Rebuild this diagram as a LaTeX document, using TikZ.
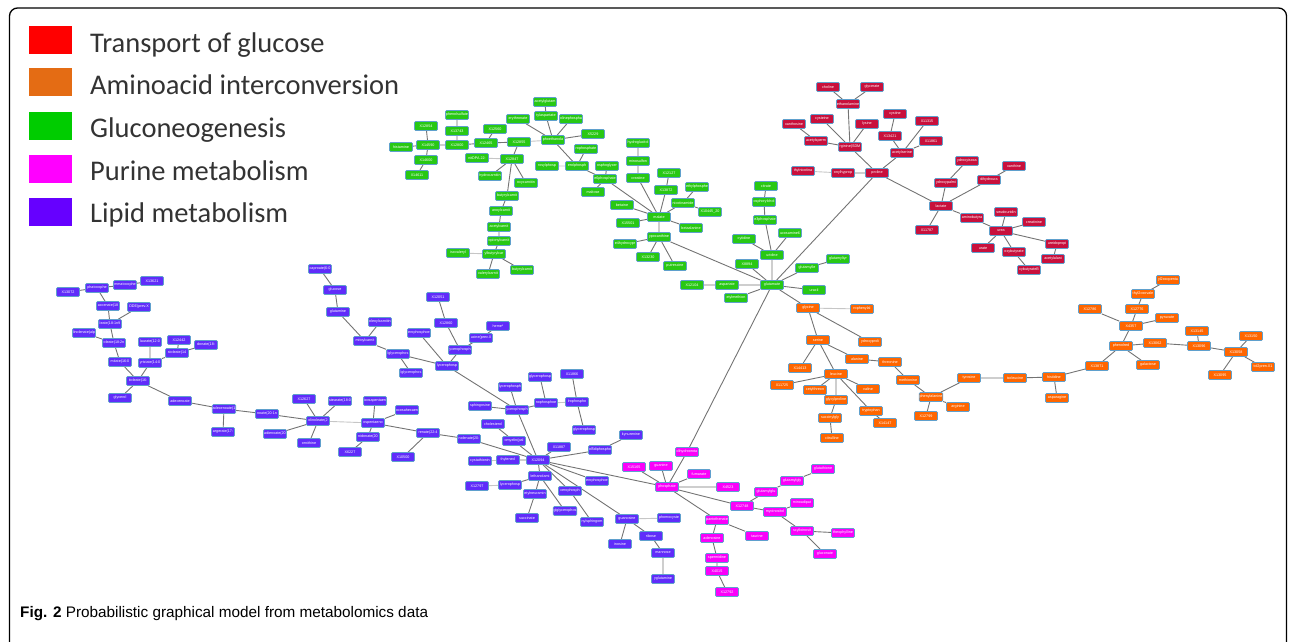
\documentclass[tikz,border=0pt]{standalone}
\usepackage{fontspec}
\setsansfont{Liberation Sans}
\newfontfamily\legendfont{Carlito}
\usetikzlibrary{backgrounds}

\definecolor{grFill}{RGB}{40,200,20}
\definecolor{rdFill}{RGB}{200,16,60}
\definecolor{orFill}{RGB}{255,102,0}
\definecolor{mgFill}{RGB}{250,0,250}
\definecolor{puFill}{RGB}{96,44,250}
\definecolor{nodeRim}{RGB}{95,160,205}
\definecolor{edgeGray}{RGB}{115,115,115}
\definecolor{legRed}{RGB}{255,0,0}
\definecolor{legOrange}{RGB}{228,108,20}
\definecolor{legGreen}{RGB}{0,204,0}
\definecolor{legPink}{RGB}{255,0,255}
\definecolor{legPurple}{RGB}{102,0,255}

\begin{document}
\begin{tikzpicture}[x=1pt,y=-1pt,
    met/.style={rectangle,draw=nodeRim,line width=0.7pt,rounded corners=1.2pt,
      minimum width=23pt,minimum height=9pt,inner sep=0.4pt,text=white,
      font=\sffamily\fontsize{3.7}{4}\selectfont},
    gnode/.style={met,fill=grFill},
    rnode/.style={met,fill=rdFill},
    onode/.style={met,fill=orFill},
    mnode/.style={met,fill=mgFill},
    pnode/.style={met,fill=puFill},
    edge/.style={draw=edgeGray,line width=0.9pt},
    weak/.style={draw=gray!45,line width=0.9pt},
    legsq/.style={rectangle,minimum width=43pt,minimum height=28pt,inner sep=0pt},
    legtext/.style={anchor=base west,inner sep=0pt,text=black!80,
      font=\legendfont\fontsize{28.5}{30}\selectfont}]
    \useasboundingbox (0,0) rectangle (1295,641);
    \clip (0,0) rectangle (1295,641);
    % frame
    \draw[line width=1.3pt,rounded corners=8pt] (9.5,8) rectangle (1286.5,680);
    % legend
    \node (sqRed) at (50.5,40) [legsq,fill=legRed] {};
    \node (sqOrange) at (50.5,82) [legsq,fill=legOrange] {};
    \node (sqGreen) at (50.5,126) [legsq,fill=legGreen] {};
    \node (sqPink) at (50.5,169) [legsq,fill=legPink] {};
    \node (sqPurple) at (50.5,212) [legsq,fill=legPurple] {};
    \node (txRed) at (90,52) [legtext] {Transport of glucose};
    \node (txOrange) at (90,94) [legtext] {Aminoacid interconversion};
    \node (txGreen) at (90,137) [legtext] {Gluconeogenesis};
    \node (txPink) at (90,180) [legtext] {Purine metabolism};
    \node (txPurple) at (90,222) [legtext] {Lipid metabolism};
    % caption
    \node (caption) at (20,617) [anchor=base west,inner sep=0pt,
      font=\sffamily\fontsize{15.3}{17}\selectfont] {\textbf{Fig. 2} Probabilistic graphical model from metabolomics data};

    % nodes: gluconeogenesis
    \node (histam) at (401,147) [gnode] {histamine};
    \node (x12854) at (426,126) [gnode] {X12854};
    \node (x14590) at (428,145) [gnode] {X14590};
    \node (x14600) at (426,160) [gnode] {X14600};
    \node (x14611) at (417,175) [gnode] {X14611};
    \node (phsulf) at (457,115) [gnode] {phenolsulfate};
    \node (x13743) at (457,131) [gnode] {X13743};
    \node (x12800) at (457,145) [gnode] {X12800};
    \node (x12465) at (486,143) [gnode] {X12465};
    \node (x12560) at (495,129) [gnode] {X12560};
    \node (x12855) at (519,142) [gnode] {X12855};
    \node (erythr) at (518,119) [gnode] {erythronate};
    \node (acglut) at (545,102) [gnode] {acetylglutam};
    \node (acasp) at (546,116) [gnode] {tylaspartate};
    \node (chphos) at (571,119) [gnode] {olinephospha};
    \node (phetha) at (553,140) [gnode] {phoethanola};
    \node (x5229) at (593,134) [gnode] {X5229};
    \node (rophos) at (586,149) [gnode] {rophosphate};
    \node (gphosp) at (577,166) [gnode] {erolphosph};
    \node (mosph) at (547,166) [gnode] {rosylphosp};
    \node (nitdpa) at (477,158) [gnode] {nitDPA 22:};
    \node (x12847) at (512,159) [gnode] {X12847};
    \node (dihcar) at (490,176) [gnode] {hydrocarnitin};
    \node (oxycar) at (526,183) [gnode] {oxycarnitin};
    \node (butcar) at (507,196) [gnode] {butyrylcarnit};
    \node (anocar) at (501,211) [gnode] {anoylcarnit};
    \node (acecar) at (499,227) [gnode] {acetylcarnit};
    \node (procar) at (499,241) [gnode] {opionylcarnit};
    \node (ylbut) at (494,254) [gnode] {ylbutyrylcar};
    \node (isoval) at (458,253) [gnode] {isovaleryl};
    \node (valcar) at (488,274) [gnode] {valerylcarnit};
    \node (butcr) at (522,270) [gnode] {butyrylcarnit};
    \node (hydgluc) at (638,143) [gnode] {hydroglucitol};
    \node (minsulf) at (638,161) [gnode] {minosulfon};
    \node (creat) at (638,178) [gnode] {creatine};
    \node (x12127) at (669,173) [gnode] {X12127};
    \node (x13872) at (666,190) [gnode] {X13872};
    \node (ethph) at (697,187) [gnode] {ethylphosphe};
    \node (nicot) at (683,203) [gnode] {nicotinamide};
    \node (x10445) at (710,212) [gnode] {X10445\_20};
    \node (balan) at (691,228) [gnode] {betaalanine};
    \node (malate) at (659,217) [gnode] {malate};
    \node (betaine) at (622,205) [gnode] {betaine};
    \node (x15501) at (628,223) [gnode] {X15501};
    \node (hypox) at (659,237) [gnode] {ypoxanthine};
    \node (hydpro) at (625,244) [gnode] {e4hydroxypr};
    \node (x13230) at (648,257) [gnode] {X13230};
    \node (putr) at (675,266) [gnode] {putrescine};
    \node (phgly) at (607,166) [gnode] {osphoglycer};
    \node (e6ph) at (605,179) [gnode] {e6phosphate};
    \node (maltose) at (593,192) [gnode] {maltose};
    \node (glut) at (772,285) [gnode] {glutamate};
    \node (citrate) at (766,186) [gnode] {citrate};
    \node (phchol) at (764,202) [gnode] {osphorylchol};
    \node (e3ph) at (765,220) [gnode] {e3phosphate};
    \node (glcam) at (790,233) [gnode] {ucosamine6};
    \node (cytid) at (744,239) [gnode] {cytidine};
    \node (urid) at (772,255) [gnode] {uridine};
    \node (x8894) at (747,264) [gnode] {X8894};
    \node (x12104) at (692,285) [gnode] {X12104};
    \node (aspart) at (727,285) [gnode] {aspartate};
    \node (acmet) at (736,298) [gnode] {etylmethion};
    \node (glule) at (807,268) [gnode] {glutamylle};
    \node (glutyr) at (838,259) [gnode] {glutamyltyr};
    \node (uracil) at (814,290) [gnode] {uracil};

    % nodes: transport of glucose
    \node (choline) at (828,87) [rnode] {choline};
    \node (glycer) at (872,87) [rnode] {glycerate};
    \node (ethan) at (848,104) [rnode] {ethanolamine};
    \node (xantho) at (794,124) [rnode] {xanthosine};
    \node (cyste) at (822,119) [rnode] {cysteine};
    \node (lysine) at (867,124) [rnode] {lysine};
    \node (acsperm) at (816,141) [rnode] {acetylsperm};
    \node (argsdm) at (850,147) [rnode] {rginine(SDM};
    \node (cystine) at (895,114) [rnode] {cystine};
    \node (x13421) at (890,136) [rnode] {X13421};
    \node (x11315) at (927,121) [rnode] {X11315};
    \node (x11861) at (931,141) [rnode] {X11861};
    \node (acser) at (902,153) [rnode] {acetylserine};
    \node (proline) at (877,173) [rnode] {proline};
    \node (onylhp) at (843,173) [rnode] {onylhyprop};
    \node (nicotr) at (803,171) [rnode] {thylnicotina};
    \node (lactate) at (941,206) [rnode] {lactate};
    \node (hpalm) at (946,183) [rnode] {ydroxypalmi};
    \node (hisoca) at (967,161) [rnode] {ydroxyisoca};
    \node (dhura) at (989,180) [rnode] {dihydroura};
    \node (xanth) at (1014,166) [rnode] {xanthine};
    \node (x11787) at (927,230) [rnode] {X11787};
    \node (aminob) at (972,218) [rnode] {aminobutyra};
    \node (urea) at (1001,231) [rnode] {urea};
    \node (pseud) at (1006,212) [rnode] {seudouridin};
    \node (creatn) at (1034,222) [rnode] {creatinine};
    \node (urate) at (983,248) [rnode] {urate};
    \node (oxbut) at (1014,252) [rnode] {oxybutyrate};
    \node (oxbutb) at (1029,270) [rnode] {xybutyrateB};
    \node (ureid) at (1057,244) [rnode] {ureidopropi};
    \node (acala) at (1053,259) [rnode] {acetylalani};

    % nodes: aminoacid interconversion
    \node (glycine) at (808,308) [onode] {glycine};
    \node (rophen) at (862,309) [onode] {rophenylal};
    \node (hydrox) at (870,342) [onode] {ydroxyproli};
    \node (serine) at (818,340) [onode] {serine};
    \node (x14413) at (800,368) [onode] {X14413};
    \node (alanine) at (857,359) [onode] {alanine};
    \node (threon) at (890,362) [onode] {threonine};
    \node (leucine) at (836,374) [onode] {leucine};
    \node (x11725) at (782,385) [onode] {X11725};
    \node (acthr) at (815,390) [onode] {cetylthreon};
    \node (valine) at (868,389) [onode] {valine};
    \node (glypro) at (836,400) [onode] {glycylproline};
    \node (trypt) at (871,411) [onode] {tryptophan};
    \node (x14147) at (885,423) [onode] {X14147};
    \node (sucgly) at (830,418) [onode] {succinylgly};
    \node (citrul) at (832,438) [onode] {citrulline};
    \node (methio) at (908,380) [onode] {methionine};
    \node (phenal) at (931,397) [onode] {phenylalanine};
    \node (x12799) at (926,416) [onode] {X12799};
    \node (arginine) at (958,407) [onode] {arginine};
    \node (tyros) at (969,378) [onode] {tyrosine};
    \node (isoleu) at (1015,378) [onode] {isoleucine};
    \node (histid) at (1054,377) [onode] {histidine};
    \node (aspara) at (1057,398) [onode] {asparagine};
    \node (x13871) at (1097,366) [onode] {X13871};
    \node (phenred) at (1121,346) [onode] {phenolred};
    \node (x4357) at (1131,326) [onode] {X4357};
    \node (x12786) at (1090,309) [onode] {X12786};
    \node (x12776) at (1137,309) [onode] {X12776};
    \node (oxoval) at (1143,294) [onode] {thyl2oxovale};
    \node (oxopent) at (1168,280) [onode] {yl2oxopenta};
    \node (pyruv) at (1167,318) [onode] {pyruvate};
    \node (x13062) at (1155,343) [onode] {X13062};
    \node (galact) at (1148,365) [onode] {galactose};
    \node (x13145) at (1197,331) [onode] {X13145};
    \node (x13096) at (1199,346) [onode] {X13096};
    \node (x13058) at (1236,352) [onode] {X13058};
    \node (x13150) at (1251,336) [onode] {X13150};
    \node (x13095) at (1220,375) [onode] {X13095};
    \node (tolpren) at (1263,367) [onode] {tol2pren.X1};

    % nodes: lipid metabolism
    \node (x13072) at (68,292) [pnode] {X13072};
    \node (phatoc) at (97,288) [pnode] {phatocophe};
    \node (mmatoc) at (125,285) [pnode] {mmatocophe};
    \node (x13621) at (152,281) [pnode] {X13621};
    \node (vaccen) at (108,306) [pnode] {accenate(18};
    \node (ddeprev) at (139,307) [pnode] {DDE(prev.X};
    \node (oleate) at (110,324) [pnode] {leate(18:1n9};
    \node (linolen) at (84,333) [pnode] {linolenate(alp};
    \node (linole) at (114,343) [pnode] {oleate(18:2n};
    \node (laurate) at (150,342) [pnode] {laurate(12:0};
    \node (x12442) at (179,340) [pnode] {X12442};
    \node (myrtol) at (177,353) [pnode] {stoleate(14};
    \node (donate) at (206,345) [pnode] {donate(18:};
    \node (palmit) at (120,362) [pnode] {mitate(16:0};
    \node (myrate) at (150,363) [pnode] {yristate(14:0};
    \node (palmol) at (138,381) [pnode] {itoleate(16:};
    \node (glycerol) at (120,398) [pnode] {glycerol};
    \node (adecen) at (180,401) [pnode] {adecenoate};
    \node (adecenb) at (224,409) [pnode] {adecenoate(1};
    \node (marg) at (223,432) [pnode] {argerate(17:};
    \node (eicos) at (267,414) [pnode] {noate(20:1n};
    \node (x12627) at (304,399) [pnode] {X12627};
    \node (stear) at (340,401) [pnode] {stearate(18:0};
    \node (dihomo) at (318,421) [pnode] {olinoleate(2};
    \node (adien) at (275,434) [pnode] {adienoate(20};
    \node (ornith) at (309,443) [pnode] {ornithine};
    \node (epa) at (375,401) [pnode] {icosapentaen};
    \node (dha) at (407,410) [pnode] {ocosahexaen};
    \node (dpa) at (373,423) [pnode] {ospentaeno};
    \node (arach) at (368,437) [pnode] {nidonate(20};
    \node (x6227) at (350,452) [pnode] {X6227};
    \node (adren) at (428,433) [pnode] {renate(22:4};
    \node (x10500) at (403,457) [pnode] {X10500};
    \node (dhlin) at (469,439) [pnode] {nolenate(20:};
    \node (cysta) at (480,461) [pnode] {cystathionin};
    \node (caproate) at (320,269) [pnode] {caproate(6:0};
    \node (glucose) at (335,290) [pnode] {glucose};
    \node (glutam) at (338,312) [pnode] {glutamine};
    \node (palcar) at (365,341) [pnode] {mitoylcarnit};
    \node (olecar) at (380,322) [pnode] {oleoylcarnitin};
    \node (lglyca) at (398,354) [pnode] {lglycerophos};
    \node (lglycb) at (411,373) [pnode] {lglycerophos};
    \node (gpca) at (447,366) [pnode] {lycerophosp};
    \node (ephoe) at (419,333) [pnode] {erophosphoe};
    \node (x12051) at (438,297) [pnode] {X12051};
    \node (x12860) at (446,323) [pnode] {X12860};
    \node (ycph) at (460,350) [pnode] {ycerophosph};
    \node (leuprev) at (481,338) [pnode] {ucine(prev.X};
    \node (heme) at (498,326) [pnode] {heme*};
    \node (glycc) at (540,377) [pnode] {glycerophosp};
    \node (x11866) at (572,374) [pnode] {X11866};
    \node (lycd) at (510,387) [pnode] {lycerophosph};
    \node (sphing) at (480,406) [pnode] {sphingosine};
    \node (gpcb) at (517,410) [pnode] {ycerophosph};
    \node (nphoe) at (546,403) [pnode] {nophosphoe};
    \node (lroph) at (577,402) [pnode] {lrophospho};
    \node (glyce) at (584,430) [pnode] {glycerophosp};
    \node (chol) at (493,424) [pnode] {cholesterol};
    \node (sphmy) at (514,441) [pnode] {omyelin(pal};
    \node (x11887) at (559,447) [pnode] {X11887};
    \node (x12094) at (538,460) [pnode] {X12094};
    \node (methyl) at (508,460) [pnode] {thylenecl};
    \node (ribdp) at (600,450) [pnode] {ol5diphospho};
    \node (kynur) at (631,435) [pnode] {kynurenine};
    \node (ethaml) at (540,476) [pnode] {lethanolami};
    \node (gpcc) at (510,485) [pnode] {lycerophosp};
    \node (x12797) at (477,486) [pnode] {X12797};
    \node (neura) at (535,494) [pnode] {etylneuramin};
    \node (succin) at (527,518) [pnode] {succinate};
    \node (ephoeb) at (597,481) [pnode] {erophosphoe};
    \node (ceroph) at (570,491) [pnode] {cerophosph};
    \node (glgly) at (565,511) [pnode] {glglycerophos};
    \node (sphgom) at (592,522) [pnode] {nylsphingom};
    \node (guanos) at (627,519) [pnode] {guanosine};
    \node (homocy) at (669,518) [pnode] {phomocyste};
    \node (ribose) at (651,536) [pnode] {ribose};
    \node (inosine) at (620,544) [pnode] {inosine};
    \node (mannose) at (663,553) [pnode] {mannose};
    \node (yglut) at (663,579) [pnode] {yglutamine};

    % nodes: purine metabolism
    \node (dihoro) at (687,452) [mnode] {dihydroorota};
    \node (x15165) at (634,467) [mnode] {X15165};
    \node (guanine) at (661,466) [mnode] {guanine};
    \node (fumar) at (699,474) [mnode] {fumarate};
    \node (x4523) at (728,487) [mnode] {X4523};
    \node (phosph) at (667,487) [mnode] {phosphate};
    \node (x12748) at (742,506) [mnode] {X12748};
    \node (glglu) at (766,492) [mnode] {glutamylglu};
    \node (glglyb) at (792,481) [mnode] {glutamylgly};
    \node (gluth) at (823,469) [mnode] {glutathione};
    \node (myoino) at (775,512) [mnode] {myoinositol};
    \node (aminad) at (802,503) [mnode] {minoadipat};
    \node (scyllo) at (802,531) [mnode] {scylloinosit};
    \node (glucon) at (825,554) [mnode] {gluconate};
    \node (theoph) at (843,533) [mnode] {theophylline};
    \node (panto) at (717,520) [mnode] {pantothenate};
    \node (taurine) at (757,536) [mnode] {taurine};
    \node (adenos) at (712,538) [mnode] {adenosine};
    \node (spermi) at (717,558) [mnode] {spermidine};
    \node (x4015) at (717,571) [mnode] {X4015};
    \node (x12792) at (727,592) [mnode] {X12792};

    % paths
    \begin{scope}[on background layer]
    \draw[edge] (histam) -- (x14590) (x12854) -- (x14590) (x14590) -- (x14600)
      (x14600) -- (x14611) (x14590) -- (x12800) (phsulf) -- (x13743)
      (x13743) -- (x12800) (x12800) -- (x12465) (x12465) -- (x12855)
      (x12560) -- (x12465) (erythr) -- (phetha) (acasp) -- (phetha)
      (acglut) -- (acasp) (chphos) -- (phetha) (phetha) -- (x5229)
      (phetha) -- (gphosp) (rophos) -- (gphosp) (gphosp) -- (e6ph)
      (phgly) -- (e6ph) (e6ph) -- (malate) (e6ph) -- (maltose)
      (x12855) -- (x12847) (x12847) -- (dihcar) (x12847) -- (oxycar)
      (x12847) -- (butcar) (butcar) -- (anocar) (anocar) -- (acecar)
      (acecar) -- (procar) (procar) -- (ylbut) (ylbut) -- (valcar)
      (ylbut) -- (butcr);
    \draw[edge] (hydgluc) -- (minsulf) (minsulf) -- (creat) (creat) -- (malate)
      (x12127) -- (x13872) (x13872) -- (malate) (ethph) -- (nicot)
      (nicot) -- (x10445) (nicot) -- (malate) (malate) -- (balan)
      (betaine) -- (malate) (x15501) -- (malate) (malate) -- (hypox)
      (hypox) -- (hydpro) (hypox) -- (x13230) (hypox) -- (putr)
      (hypox) -- (glut) (citrate) -- (phchol) (phchol) -- (e3ph)
      (e3ph) -- (urid) (glcam) -- (urid) (cytid) -- (urid) (urid) -- (glut)
      (x8894) -- (glut) (aspart) -- (glut) (x12104) -- (aspart)
      (acmet) -- (glut) (glule) -- (glut) (glutyr) -- (glule)
      (uracil) -- (glut) (glut) -- (glycine) (glut) -- (proline)
      (glut) -- (dihoro);
    \draw[edge] (choline) -- (ethan) (glycer) -- (ethan) (ethan) -- (argsdm)
      (xantho) -- (acsperm) (cyste) -- (argsdm) (acsperm) -- (argsdm)
      (lysine) -- (argsdm) (argsdm) -- (proline) (cystine) -- (x13421)
      (x13421) -- (acser) (x11315) -- (acser) (x11861) -- (acser)
      (acser) -- (proline) (onylhp) -- (proline) (proline) -- (lactate)
      (hisoca) -- (hpalm) (hpalm) -- (lactate) (xanth) -- (dhura)
      (dhura) -- (lactate) (lactate) -- (x11787) (lactate) -- (aminob)
      (aminob) -- (urea) (pseud) -- (urea) (creatn) -- (urea)
      (urea) -- (urate) (urea) -- (oxbut) (oxbut) -- (oxbutb)
      (urea) -- (ureid) (ureid) -- (acala);
    \draw[edge] (glycine) -- (hydrox) (glycine) -- (serine) (serine) -- (x14413)
      (serine) -- (alanine) (serine) -- (leucine) (alanine) -- (threon)
      (threon) -- (methio) (methio) -- (phenal) (phenal) -- (x12799)
      (phenal) -- (arginine) (phenal) -- (tyros) (leucine) -- (x11725)
      (leucine) -- (acthr) (leucine) -- (glypro) (leucine) -- (valine)
      (leucine) -- (trypt) (trypt) -- (x14147) (glypro) -- (sucgly)
      (sucgly) -- (citrul) (tyros) -- (isoleu) (isoleu) -- (histid)
      (histid) -- (aspara) (histid) -- (x13871) (x13871) -- (phenred)
      (phenred) -- (x4357) (x4357) -- (x12786) (x4357) -- (x12776)
      (x12776) -- (oxoval) (oxoval) -- (oxopent) (x4357) -- (pyruv)
      (phenred) -- (x13062) (phenred) -- (galact) (x13062) -- (x13096)
      (x13145) -- (x13096) (x13096) -- (x13058) (x13058) -- (x13150)
      (x13058) -- (x13095) (x13058) -- (tolpren);
    \draw[edge] (x13072) -- (phatoc) (phatoc) -- (mmatoc) (mmatoc) -- (x13621)
      (phatoc) -- (vaccen) (vaccen) -- (oleate) (ddeprev) -- (oleate)
      (oleate) -- (linole) (linolen) -- (linole) (linole) -- (palmit)
      (palmit) -- (palmol) (laurate) -- (myrate) (x12442) -- (myrtol)
      (myrtol) -- (donate) (myrtol) -- (myrate) (myrate) -- (palmol)
      (palmol) -- (glycerol) (palmol) -- (adecen) (adecen) -- (adecenb)
      (adecenb) -- (marg) (adecenb) -- (eicos) (eicos) -- (dihomo)
      (x12627) -- (dihomo) (stear) -- (dihomo) (adien) -- (dihomo)
      (ornith) -- (dihomo) (epa) -- (dpa) (dha) -- (dpa) (arach) -- (dpa)
      (x6227) -- (arach) (dpa) -- (adren) (x10500) -- (adren)
      (adren) -- (dhlin) (dhlin) -- (x12094);
    \draw[edge] (caproate) -- (glucose) (glucose) -- (glutam) (glutam) -- (palcar)
      (olecar) -- (palcar) (palcar) -- (lglyca) (lglyca) -- (lglycb)
      (lglyca) -- (gpca) (ephoe) -- (gpca) (x12051) -- (x12860)
      (x12860) -- (ycph) (ycph) -- (gpca) (leuprev) -- (ycph)
      (heme) -- (leuprev) (gpca) -- (gpcb) (lycd) -- (gpcb)
      (sphing) -- (gpcb) (gpcb) -- (nphoe) (glycc) -- (nphoe)
      (x11866) -- (lroph) (lroph) -- (glyce) (gpcb) -- (x12094)
      (chol) -- (sphmy) (sphmy) -- (x12094) (methyl) -- (x12094)
      (x11887) -- (x12094) (x12094) -- (ribdp) (ribdp) -- (kynur)
      (x12094) -- (ethaml) (ethaml) -- (gpcc) (ethaml) -- (neura)
      (neura) -- (succin) (ethaml) -- (glgly) (x12094) -- (ephoeb)
      (x12094) -- (ceroph) (ceroph) -- (sphgom) (x12094) -- (guanos)
      (x12094) -- (phosph) (guanos) -- (inosine) (guanos) -- (ribose)
      (ribose) -- (mannose) (mannose) -- (yglut);
    \draw[edge] (phosph) -- (x15165) (phosph) -- (guanine) (phosph) -- (dihoro)
      (phosph) -- (fumar) (phosph) -- (x4523) (phosph) -- (x12748)
      (phosph) -- (panto) (x12748) -- (glglu) (glglu) -- (glglyb)
      (glglyb) -- (gluth) (x12748) -- (myoino) (myoino) -- (aminad)
      (myoino) -- (scyllo) (scyllo) -- (theoph) (scyllo) -- (glucon)
      (panto) -- (taurine) (panto) -- (adenos) (adenos) -- (spermi)
      (spermi) -- (x4015) (x4015) -- (x12792);
    \draw[weak] (x12855) -- (phetha) (mosph) -- (gphosp) (nitdpa) -- (x12847)
      (isoval) -- (ylbut) (nicotr) -- (onylhp) (glycine) -- (rophen)
      (dihomo) -- (dpa) (methyl) -- (cysta) (x12797) -- (gpcc)
      (guanos) -- (homocy) (nphoe) -- (lroph);
    \end{scope}
\end{tikzpicture}
\end{document}
